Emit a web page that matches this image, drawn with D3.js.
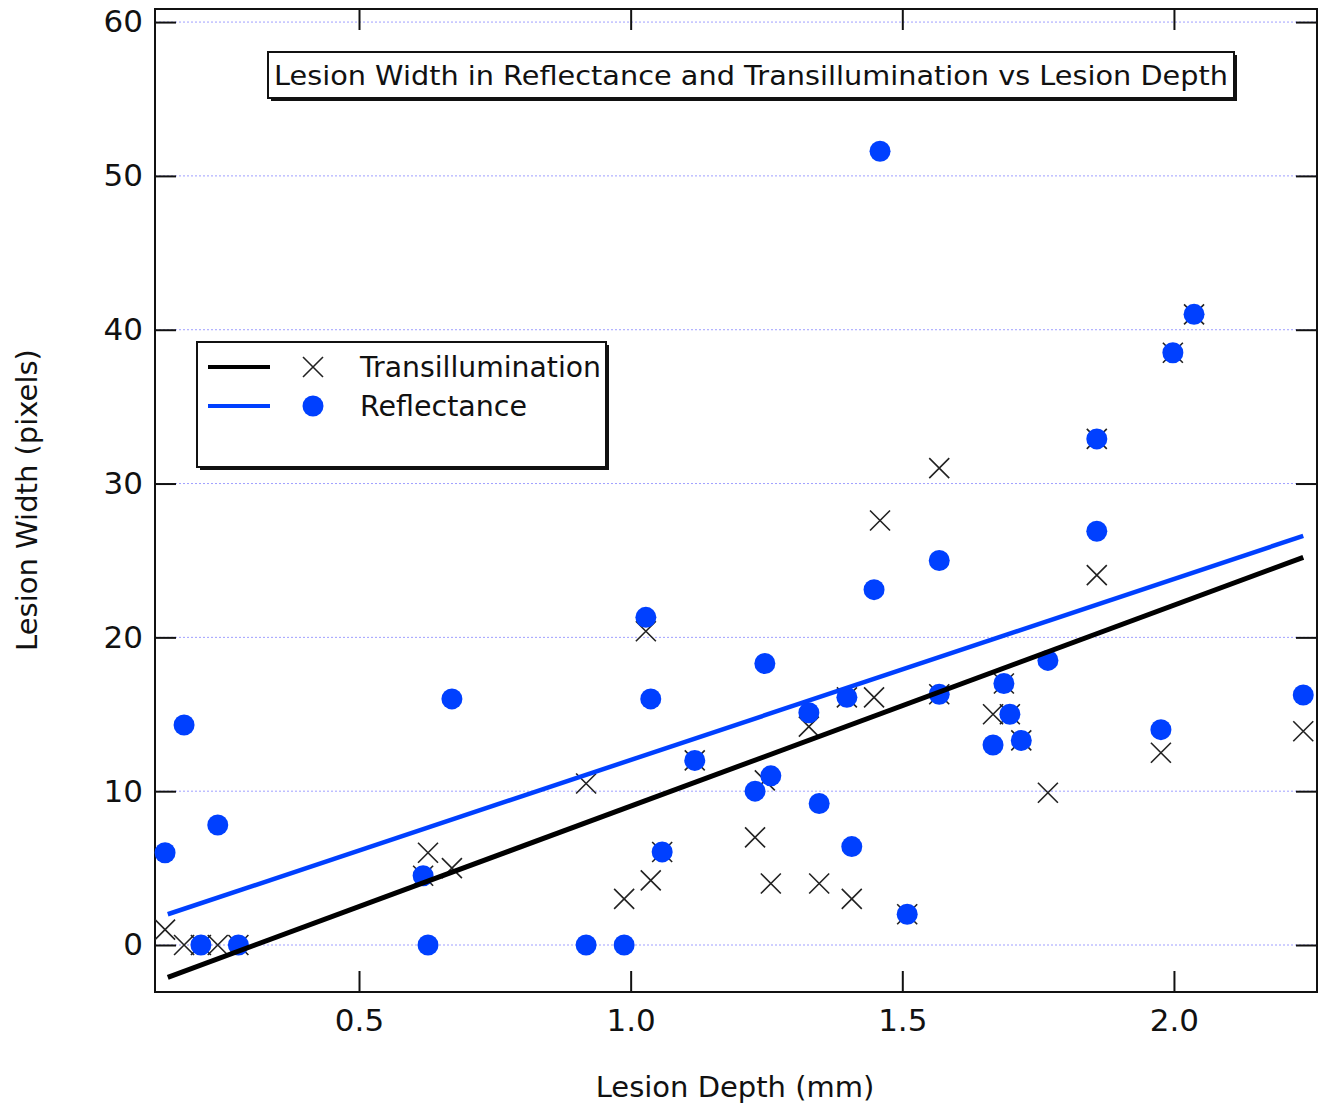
<!DOCTYPE html>
<html>
<head>
<meta charset="utf-8">
<script src="https://cdn.jsdelivr.net/npm/d3@7"></script>
<style>
  body { margin: 0; background: #fff; }
  text { font-family: "DejaVu Sans", "Open Sans", sans-serif; fill: #111; }
</style>
</head>
<body>
<div class="chart"></div>
<script>
// Lesion depth (mm) for each lesion, shared by both series
var depth = [0.143, 0.178, 0.209, 0.240, 0.278, 0.618, 0.627, 0.671, 0.918, 0.988,
             1.028, 1.037, 1.058, 1.118, 1.229, 1.247, 1.258, 1.328, 1.347, 1.398,
             1.407, 1.448, 1.459, 1.509, 1.568, 1.568, 1.667, 1.687, 1.698, 1.719,
             1.768, 1.858, 1.858, 1.976, 1.998, 2.037, 2.238];
// Lesion width (pixels) in transillumination
var trans = [1.0, 0, 0, 0, 0, 4.5, 6.0, 5.0, 10.5, 3.0,
             20.4, 4.2, 6.05, 12.0, 7.0, 10.7, 4.0, 14.2, 4.0, 16.1,
             3.0, 16.1, 27.6, 2.0, 31.0, 16.3, 15.0, 17.0, 15.0, 13.3,
             9.9, 24.05, 32.9, 12.5, 38.5, 41.0, 13.9];
// Lesion width (pixels) in reflectance
var refl = [6.0, 14.3, 0, 7.8, 0, 4.5, 0, 16.0, 0, 0,
            21.3, 16.0, 6.05, 12.0, 10.0, 18.3, 11.0, 15.1, 9.2, 16.1,
            6.4, 23.1, 51.6, 2.0, 25.0, 16.3, 13.0, 17.0, 15.0, 13.3,
            18.5, 26.9, 32.9, 14.0, 38.5, 41.0, 16.25];
// linear fit end points
var fitX = [0.148, 2.238];
var fitTrans = [-2.1, 25.2];
var fitRefl = [2.0, 26.6];

var xTicks = [0.5, 1.0, 1.5, 2.0];
var yTicks = [0, 10, 20, 30, 40, 50, 60];

var TITLE = "Lesion Width in Reflectance and Transillumination vs Lesion Depth";
var X_LABEL = "Lesion Depth (mm)";
var Y_LABEL = "Lesion Width (pixels)";
var SERIES_NAMES = ["Transillumination", "Reflectance"];

var BLUE = "#0040ff";
var W = 1326, H = 1108;
var PLOT_L = 155, PLOT_R = 1317, PLOT_T = 9, PLOT_B = 992;
var TICK_LEN = 21;
var DOT_R = 10.5;
var CROSS = 10;

var svg = d3.select(".chart").append("svg")
        .attr("width", W)
        .attr("height", H);

var x = d3.scaleLinear().domain([0.1245, 2.2633]).range([PLOT_L, PLOT_R]);
var y = d3.scaleLinear().domain([-3.055, 60.85]).range([PLOT_B, PLOT_T]);

// dotted grid lines at each y tick
svg.append("g").selectAll("line").data(yTicks).enter().append("line")
        .attr("x1", PLOT_L).attr("x2", PLOT_R)
        .attr("y1", function (d) { return y(d); })
        .attr("y2", function (d) { return y(d); })
        .attr("stroke", "#9f9fff")
        .attr("stroke-width", 1)
        .attr("stroke-dasharray", "2,2");

// Axes: ticks point inward on all four sides
svg.append("g").attr("transform", "translate(0," + PLOT_B + ")")
        .call(d3.axisBottom(x).tickValues(xTicks).tickSizeInner(-TICK_LEN).tickSizeOuter(0)
            .tickPadding(17).tickFormat(d3.format(".1f")))
        .call(function (g) {
            g.select(".domain").remove();
            g.selectAll("line").attr("stroke", "#111").attr("stroke-width", 2);
            g.selectAll("text").attr("font-size", 31).attr("font-family", "DejaVu Sans").attr("fill", "#111");
        });
svg.append("g").attr("transform", "translate(0," + PLOT_T + ")")
        .call(d3.axisTop(x).tickValues(xTicks).tickSizeInner(-TICK_LEN).tickSizeOuter(0).tickFormat(""))
        .call(function (g) {
            g.select(".domain").remove();
            g.selectAll("line").attr("stroke", "#111").attr("stroke-width", 2);
        });
svg.append("g").attr("transform", "translate(" + PLOT_L + ",0)")
        .call(d3.axisLeft(y).tickValues(yTicks).tickSizeInner(-TICK_LEN).tickSizeOuter(0)
            .tickPadding(12))
        .call(function (g) {
            g.select(".domain").remove();
            g.selectAll("line").attr("stroke", "#111").attr("stroke-width", 2);
            g.selectAll("text").attr("font-size", 31).attr("font-family", "DejaVu Sans").attr("fill", "#111");
        });
svg.append("g").attr("transform", "translate(" + PLOT_R + ",0)")
        .call(d3.axisRight(y).tickValues(yTicks).tickSizeInner(-TICK_LEN).tickSizeOuter(0).tickFormat(""))
        .call(function (g) {
            g.select(".domain").remove();
            g.selectAll("line").attr("stroke", "#111").attr("stroke-width", 2);
        });

// plot frame
svg.append("rect")
        .attr("x", PLOT_L).attr("y", PLOT_T)
        .attr("width", PLOT_R - PLOT_L).attr("height", PLOT_B - PLOT_T)
        .attr("fill", "none").attr("stroke", "#111").attr("stroke-width", 2);

// Transillumination crosses first, reflectance dots drawn on top
var crossPath = function (cx, cy) {
    return "M" + (cx - CROSS) + "," + (cy - CROSS) + "L" + (cx + CROSS) + "," + (cy + CROSS) +
           "M" + (cx - CROSS) + "," + (cy + CROSS) + "L" + (cx + CROSS) + "," + (cy - CROSS);
};
svg.append("g").selectAll("path").data(depth).enter().append("path")
        .attr("d", function (d, i) { return crossPath(x(d), y(trans[i])); })
        .attr("stroke", "#222")
        .attr("stroke-width", 1.6)
        .attr("fill", "none");

svg.append("g").selectAll("circle").data(depth).enter().append("circle")
        .attr("cx", function (d) { return x(d); })
        .attr("cy", function (d, i) { return y(refl[i]); })
        .attr("r", DOT_R)
        .attr("fill", BLUE);

// fit lines
var fitLine = d3.line()
        .x(function (d) { return x(d[0]); })
        .y(function (d) { return y(d[1]); });
svg.append("path")
        .attr("d", fitLine(d3.zip(fitX, fitRefl)))
        .attr("stroke", BLUE).attr("stroke-width", 4.5).attr("fill", "none");
svg.append("path")
        .attr("d", fitLine(d3.zip(fitX, fitTrans)))
        .attr("stroke", "#000").attr("stroke-width", 5).attr("fill", "none");

// Title box with drop shadow
var tb = {x: 268, y: 52, w: 966, h: 46};
svg.append("rect").attr("x", tb.x + 3).attr("y", tb.y + 3).attr("width", tb.w).attr("height", tb.h)
        .attr("fill", "#111");
svg.append("rect").attr("x", tb.x).attr("y", tb.y).attr("width", tb.w).attr("height", tb.h)
        .attr("fill", "#fff").attr("stroke", "#111").attr("stroke-width", 2);
svg.append("text")
        .attr("x", tb.x + 6).attr("y", tb.y + 33)
        .attr("font-size", 27)
        .attr("textLength", 954).attr("lengthAdjust", "spacingAndGlyphs")
        .text(TITLE);

// Legend box
var lb = {x: 197, y: 342, w: 409, h: 125};
svg.append("rect").attr("x", lb.x + 3).attr("y", lb.y + 3).attr("width", lb.w).attr("height", lb.h)
        .attr("fill", "#111");
svg.append("rect").attr("x", lb.x).attr("y", lb.y).attr("width", lb.w).attr("height", lb.h)
        .attr("fill", "#fff").attr("stroke", "#111").attr("stroke-width", 2);
var legRows = [367, 406];
var legColors = ["#000", BLUE];
for (var k = 0; k < 2; k++) {
    var ly = legRows[k];
    svg.append("line").attr("x1", 208).attr("x2", 270).attr("y1", ly).attr("y2", ly)
            .attr("stroke", legColors[k]).attr("stroke-width", 4);
    if (k === 0) {
        svg.append("path").attr("d", crossPath(313, ly)).attr("stroke", "#222")
                .attr("stroke-width", 1.6).attr("fill", "none");
    } else {
        svg.append("circle").attr("cx", 313).attr("cy", ly).attr("r", DOT_R).attr("fill", BLUE);
    }
    svg.append("text").attr("x", 360).attr("y", ly + 10)
            .attr("font-size", 28)
            .attr("textLength", k === 0 ? 241 : 167).attr("lengthAdjust", "spacingAndGlyphs")
            .text(SERIES_NAMES[k]);
}

// Axis titles
svg.append("text")
        .attr("x", 735).attr("y", 1097)
        .attr("text-anchor", "middle")
        .attr("font-size", 29)
        .text(X_LABEL);
svg.append("text")
        .attr("transform", "translate(37,500) rotate(-90)")
        .attr("text-anchor", "middle")
        .attr("font-size", 29)
        .text(Y_LABEL);
</script>
</body>
</html>
